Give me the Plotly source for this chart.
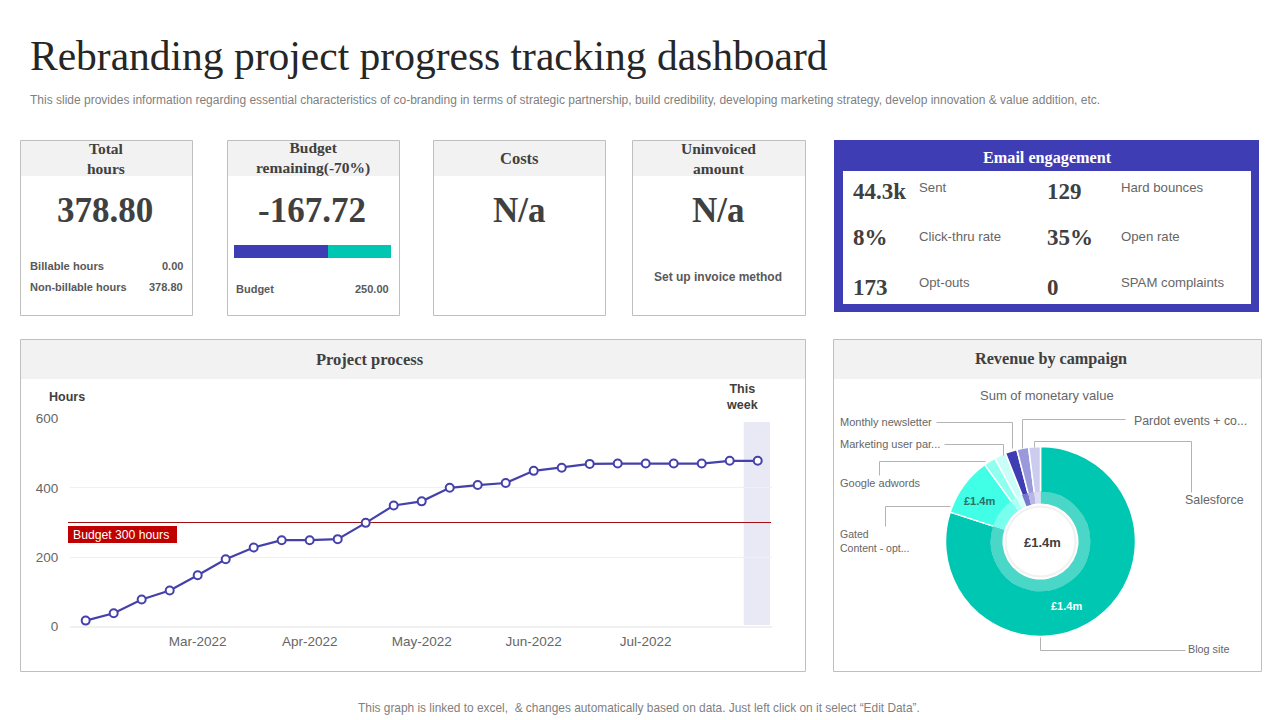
import plotly.graph_objects as go

W, H = 1280, 720
SERIF = "Liberation Serif"
SANS = "Liberation Sans"
BLUE = "#3f3db3"
TEAL = "#00c7b1"
DARK = "#404040"
GREY = "#666666"

# project hours, one point a week
weeks = [
    "Feb w1", "Feb w2", "Feb w3", "Feb w4",
    "Mar w1", "Mar w2", "Mar w3", "Mar w4",
    "Apr w1", "Apr w2", "Apr w3", "Apr w4",
    "May w1", "May w2", "May w3", "May w4",
    "Jun w1", "Jun w2", "Jun w3", "Jun w4",
    "Jul w1", "Jul w2", "Jul w3", "Jul w4",
    "Aug w1",
]
hours = [17, 38, 78, 104, 148, 194, 228, 249, 249, 252, 299, 349, 361,
         400, 408, 414, 449, 458, 469, 470, 470, 470, 470, 478, 478]
month_ticks = ["Mar w1", "Apr w1", "May w1", "Jun w1", "Jul w1"]
month_labels = ["Mar-2022", "Apr-2022", "May-2022", "Jun-2022", "Jul-2022"]
hour_ticks = [0, 200, 400, 600]
budget_hours = 300

# budget bar in the second card
budget_parts = [150, 100]
budget_colors = [BLUE, TEAL]

# revenue by campaign, clockwise from the top
campaigns = ["Blog site", "Gated Content - opt...", "Google adwords", "Marketing user par...",
             "Monthly newsletter", "Pardot events + co...", "Salesforce"]
campaign_share = [80, 10, 2, 2, 2, 2, 2]
campaign_colors = [TEAL, "#40ffe6", "#8ffff0", "#c9fff8", BLUE, "#9a99dc", "#cccdee"]

# email numbers
email_left = [("44.3k", "Sent"), ("8%", "Click-thru rate"), ("173", "Opt-outs")]
email_right = [("129", "Hard bounces"), ("35%", "Open rate"), ("0", "SPAM complaints")]


def px(x):
    return x / W


def py(y):
    return 1 - y / H


annotations = []
shapes = []


def label(x, y, text, size=12, color=GREY, font=SANS, anchor="left", bold=False):
    if bold:
        text = f"<b>{text}</b>"
    annotations.append(dict(x=px(x), y=py(y), xref="paper", yref="paper", text=text, showarrow=False,
                            xanchor=anchor, yanchor="middle", align=anchor, borderpad=0, borderwidth=0,
                            font=dict(family=font, size=size, color=color)))


def rect(x0, y0, x1, y1, fill="rgba(0,0,0,0)", line=None, width=1):
    shapes.append(dict(type="rect", xref="paper", yref="paper", x0=px(x0), x1=px(x1), y0=py(y0), y1=py(y1),
                       fillcolor=fill, line=dict(color=line, width=width if line else 0), layer="below"))


def card(x0, y0, x1, y1, header_bottom):
    rect(x0, y0, x1, header_bottom, fill="#f2f2f2")
    rect(x0, y0, x1, y1, line="#bfbfbf")


def leader(points):
    # half pixel offset keeps the thin lines crisp
    path = "M " + " L ".join(f"{px(x + 0.5)} {py(y + 0.5)}" for x, y in points)
    shapes.append(dict(type="path", xref="paper", yref="paper", path=path,
                       line=dict(color="#b3b3b3", width=1), layer="above"))


fig = go.Figure()

# line chart
fig.add_trace(go.Scatter(x=weeks, y=hours, mode="lines+markers", cliponaxis=False,
                         line=dict(color="#4541ab", width=2.2),
                         marker=dict(size=8, color="white", line=dict(color="#4541ab", width=2)),
                         showlegend=False))

# budget bar
for part, color in zip(budget_parts, budget_colors):
    fig.add_trace(go.Bar(x=[part], y=[0], orientation="h", width=1, marker=dict(color=color, line=dict(width=0)),
                         xaxis="x2", yaxis="y2", showlegend=False))

# donut, main ring and lighter inner ring
center_x, center_y = 1040.5, 541.5
outer, middle = 95, 49
fig.add_trace(go.Pie(labels=campaigns, values=campaign_share, sort=False, direction="clockwise", rotation=0,
                     hole=middle / outer, textinfo="none", showlegend=False,
                     marker=dict(colors=campaign_colors, line=dict(color="white", width=1.5)),
                     domain=dict(x=[px(center_x - outer), px(center_x + outer)],
                                 y=[py(center_y + outer), py(center_y - outer)])))
fig.add_trace(go.Pie(labels=campaigns, values=campaign_share, sort=False, direction="clockwise", rotation=0,
                     hole=38 / (middle + 1), textinfo="none", showlegend=False, opacity=0.7,
                     marker=dict(colors=campaign_colors, line=dict(width=0)),
                     domain=dict(x=[px(center_x - middle - 1), px(center_x + middle + 1)],
                                 y=[py(center_y + middle + 1), py(center_y - middle - 1)])))
shapes.append(dict(type="circle", xref="paper", yref="paper", layer="above",
                   x0=px(center_x - 35), x1=px(center_x + 35), y0=py(center_y + 35), y1=py(center_y - 35),
                   line=dict(color="#f3f1f0", width=2), fillcolor="white"))

# heading
label(30, 56, "Rebranding project progress tracking dashboard", size=41.5, color="#262626", font=SERIF)
label(30, 100, "This slide provides information regarding essential characteristics of co-branding in terms of "
      "strategic partnership, build credibility, developing marketing strategy, develop innovation &amp; value addition, etc.",
      size=12, color="#7f7f7f")
label(639, 708, "This graph is linked to excel,  &amp; changes automatically based on data. Just left click on it select “Edit Data”.",
      size=11.9, color="#7f7f7f", anchor="center")

# small cards
card(20.5, 140.5, 192.5, 315.5, 176)
card(227.5, 140.5, 399.5, 315.5, 176)
card(433.5, 140.5, 605.5, 315.5, 176)
card(632.5, 140.5, 805.5, 315.5, 176)

label(106, 158, "Total<br>hours", size=15.5, color=DARK, font=SERIF, anchor="center", bold=True)
label(313, 158, "Budget<br>remaining(-70%)", size=15.5, color=DARK, font=SERIF, anchor="center", bold=True)
label(519, 158, "Costs", size=16.5, color=DARK, font=SERIF, anchor="center", bold=True)
label(718, 158, "Uninvoiced<br>amount", size=15.5, color=DARK, font=SERIF, anchor="center", bold=True)

label(105, 210, "378.80", size=35, color=DARK, font=SERIF, anchor="center", bold=True)
label(312, 210, "-167.72", size=35, color=DARK, font=SERIF, anchor="center", bold=True)
label(519, 210, "N/a", size=35, color=DARK, font=SERIF, anchor="center", bold=True)
label(718, 210, "N/a", size=35, color=DARK, font=SERIF, anchor="center", bold=True)

label(30, 266, "Billable hours", size=11.2, color="#595959", bold=True)
label(183, 266, "0.00", size=11, color="#595959", anchor="right", bold=True)
label(30, 287, "Non-billable hours", size=11, color="#595959", bold=True)
label(183, 287, "378.80", size=11, color="#595959", anchor="right", bold=True)
label(236, 289, "Budget", size=11, color="#595959", bold=True)
label(389, 289, "250.00", size=11, color="#595959", anchor="right", bold=True)
label(718, 277, "Set up invoice method", size=12, color="#595959", anchor="center", bold=True)

# email box
rect(834, 140, 1259, 312, fill=BLUE)
rect(843, 171, 1251, 304, fill="white")
label(1047, 158, "Email engagement", size=16.2, color="white", font=SERIF, anchor="center", bold=True)
rows_num = [192, 238, 287]
rows_txt = [188, 237, 283]
for (num, name), yn, yt in zip(email_left, rows_num, rows_txt):
    label(853, yn, num, size=23, color=DARK, font=SERIF, bold=True)
    label(919, yt, name, size=13.2, color=GREY)
for (num, name), yn, yt in zip(email_right, rows_num, rows_txt):
    label(1047, yn, num, size=23, color=DARK, font=SERIF, bold=True)
    label(1121, yt, name, size=13.2, color=GREY)

# project process card
card(20.5, 339.5, 805.5, 671.5, 379)
label(370, 359, "Project process", size=16.5, color=DARK, font=SERIF, anchor="center", bold=True)
label(49, 397, "Hours", size=12.5, color=DARK, bold=True)
label(742, 397, "This<br>week", size=12.5, color=DARK, anchor="center", bold=True)
shapes.append(dict(type="rect", xref="x", yref="paper", x0=23.5, x1=24.44, y0=py(625), y1=py(422),
                   fillcolor="#e9e9f6", line=dict(width=0), layer="below"))
shapes.append(dict(type="line", xref="paper", yref="y", x0=px(68), x1=px(771), y0=budget_hours, y1=budget_hours,
                   line=dict(color="#a00f14", width=1), layer="below"))
rect(68, 526, 177, 543, fill="#c00000")
label(73, 535, f"Budget {budget_hours} hours", size=12.2, color="white")

# revenue card
card(833.5, 339.5, 1261.5, 671.5, 379)
label(1051, 359, "Revenue by campaign", size=16.2, color=DARK, font=SERIF, anchor="center", bold=True)
label(1047, 395, "Sum of monetary value", size=13, color=GREY, anchor="center")
label(1042, 542, "£1.4m", size=13, color=DARK, anchor="center", bold=True)
label(979, 501, "£1.4m", size=11, color="#2f6f68", anchor="center", bold=True)
label(1066, 606, "£1.4m", size=11, color="white", anchor="center", bold=True)

label(840, 422, "Monthly newsletter", size=11)
label(840, 444, "Marketing user par...", size=11)
label(840, 483, "Google adwords", size=11)
label(840, 541, "Gated<br>Content - opt...", size=10.5)
label(1134, 421, "Pardot events + co...", size=12.3)
label(1185, 500, "Salesforce", size=12.4)
label(1188, 649, "Blog site", size=10.8)

leader([(936, 422), (1012, 422), (1012, 448)])
leader([(944, 444), (1003, 444), (1003, 455)])
leader([(879, 475), (879, 461), (985, 461)])
leader([(885, 526), (885, 506), (950, 506)])
leader([(1125, 419), (1022, 419), (1022, 448)])
leader([(1191, 492), (1191, 441), (1034, 441), (1034, 447)])
leader([(1040, 637), (1040, 650), (1185, 650)])

fig.update_layout(
    width=W, height=H, margin=dict(l=0, r=0, t=0, b=0, pad=0, autoexpand=False),
    paper_bgcolor="white", plot_bgcolor="rgba(0,0,0,0)",
    barmode="stack", showlegend=False,
    shapes=shapes, annotations=annotations,
    xaxis=dict(domain=[px(70), px(772)], type="category", categoryorder="array", categoryarray=weeks,
               range=[-0.56, 24.51], tickmode="array", tickvals=month_ticks, ticktext=month_labels,
               showgrid=False, zeroline=False, showline=False, automargin=False,
               ticks="outside", ticklen=2, tickcolor="rgba(0,0,0,0)",
               tickfont=dict(family=SANS, size=13.5, color=GREY)),
    yaxis=dict(domain=[py(626.5), py(418.5)], range=[0, 600], tickmode="array", tickvals=hour_ticks,
               showgrid=True, gridcolor="#f0f0f0", gridwidth=1, zeroline=True, zerolinecolor="#f0f0f0", showline=False,
               automargin=False, ticks="outside", ticklen=8, tickcolor="rgba(0,0,0,0)",
               tickfont=dict(family=SANS, size=13.5, color=GREY)),
    xaxis2=dict(domain=[px(234), px(391)], range=[0, sum(budget_parts)], anchor="y2", visible=False, automargin=False),
    yaxis2=dict(domain=[py(258), py(245)], range=[-0.5, 0.5], anchor="x2", visible=False, automargin=False),
)

fig.write_html("out.html", config={"displayModeBar": False}, post_script="document.body.style.margin='0';")
